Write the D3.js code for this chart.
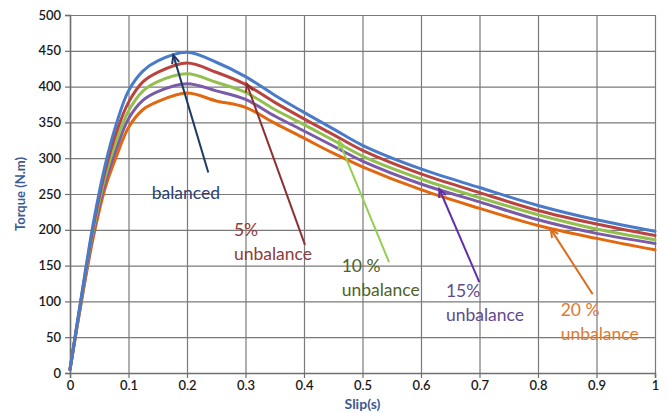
<!DOCTYPE html>
<html><head><meta charset="utf-8">
<script src="https://cdn.jsdelivr.net/npm/d3@7"></script>
<style>
html,body{margin:0;padding:0;background:#fff;}
svg{display:block;font-family:Lato,"Open Sans",sans-serif;}
</style></head>
<body>
<script>
// ---- data ----
const slip = [0, 0.02, 0.04, 0.06, 0.08, 0.1, 0.125, 0.15, 0.2, 0.25, 0.3, 0.35, 0.4, 0.45, 0.5, 0.6, 0.7, 0.8, 0.9, 1.0];
const balanced      = [5, 110, 210, 290, 350, 394, 422, 436, 448, 434, 414, 388, 364, 341, 318, 285, 259, 234, 214, 198];
const unbalance5    = [5, 108, 205, 282, 338, 378, 407, 420, 433, 420, 403, 378, 355, 333, 311, 278, 252, 227, 208, 192];
const unbalance10   = [5, 106, 200, 274, 326, 366, 394, 407, 418, 406, 392, 368, 347, 325, 303, 271, 245, 221, 201, 186];
const unbalance15   = [5, 104, 195, 266, 315, 355, 381, 393, 404, 394, 382, 359, 338, 317, 296, 264, 239, 214, 195, 181];
const unbalance20   = [5, 102, 190, 258, 304, 343, 368, 379, 391, 380, 371, 349, 328, 307, 288, 256, 230, 206, 188, 172];
const seriesNames   = ["balanced", "5% unbalance", "10 % unbalance", "15% unbalance", "20 % unbalance"];
const xTicks = [0, 0.1, 0.2, 0.3, 0.4, 0.5, 0.6, 0.7, 0.8, 0.9, 1];
const yTicks = [0, 50, 100, 150, 200, 250, 300, 350, 400, 450, 500];
const xTickLabels = ["0", "0.1", "0.2", "0.3", "0.4", "0.5", "0.6", "0.7", "0.8", "0.9", "1"];
// annotations (in data units): label lines, label anchor, arrow tail, arrow tip
const annLines  = [["balanced"], ["5%", "unbalance"], ["10 %", "unbalance"], ["15%", "unbalance"], ["20 %", "unbalance"]];
const annLabelS = [0.1397, 0.2803, 0.4644, 0.6427, 0.8388];
const annLabelT = [243, 192, 141, 106, 80];
const annTailS  = [0.2364, 0.4017, 0.5453, 0.6997, 0.8935];
const annTailT  = [280, 179, 155, 127, 110];
const annTipS   = [0.1766, 0.3020, 0.4598, 0.6313, 0.8217];
const annTipT   = [444, 404, 324, 257, 201];

// ---- styles ----
const lineColors  = ["#4A7BC8", "#B8433F", "#93BF4F", "#7A5BA8", "#E2680F"];
const arrowColors = ["#1F3864", "#8A3232", "#92D050", "#6030A8", "#DB6C1E"];
const textColors  = ["#2B3F73", "#8E3B3A", "#4F6228", "#5F4A8E", "#E07A30"];

const W = 669, H = 413;
const m = {top: 15, right: 14, bottom: 40, left: 70};
const svg = d3.select("body").append("svg").attr("width", W).attr("height", H);

const x = d3.scaleLinear().domain([0, 1]).range([m.left, W - m.right]);
const y = d3.scaleLinear().domain([0, 500]).range([H - m.bottom, m.top]);

// grid
svg.append("g").attr("transform", `translate(0,${H - m.bottom})`)
  .call(d3.axisBottom(x).tickValues(xTicks).tickSize(-(H - m.top - m.bottom)).tickFormat(""))
  .call(g => g.select(".domain").remove())
  .selectAll("line").attr("stroke", "#7a7a7a").attr("stroke-width", 1.2);
svg.append("g").attr("transform", `translate(${m.left},0)`)
  .call(d3.axisLeft(y).tickValues(yTicks).tickSize(-(W - m.left - m.right)).tickFormat(""))
  .call(g => g.select(".domain").remove())
  .selectAll("line").attr("stroke", "#7a7a7a").attr("stroke-width", 1.2);

// axes
const xa = svg.append("g").attr("transform", `translate(0,${H - m.bottom})`)
  .call(d3.axisBottom(x).tickValues(xTicks).tickSize(5).tickPadding(3).tickFormat((d, i) => xTickLabels[i]));
const ya = svg.append("g").attr("transform", `translate(${m.left},0)`)
  .call(d3.axisLeft(y).tickValues(yTicks).tickSize(5).tickPadding(4));
[xa, ya].forEach(a => {
  a.select(".domain").attr("stroke", "#6f6f6f").attr("stroke-width", 1.5);
  a.selectAll(".tick line").attr("stroke", "#6f6f6f").attr("stroke-width", 1.2);
  a.selectAll("text").attr("font-family", "Lato, sans-serif").attr("font-size", 13)
    .attr("font-weight", 600).attr("fill", "#1a1a1a");
});

// series
const allSeries = [balanced, unbalance5, unbalance10, unbalance15, unbalance20];
const line = d3.line().x((d, i) => x(slip[i])).y(d => y(d)).curve(d3.curveCatmullRom.alpha(0.5));
const order = [4, 3, 2, 1, 0];
order.forEach(k => {
  svg.append("path").datum(allSeries[k]).attr("d", line)
    .attr("fill", "none").attr("stroke", lineColors[k]).attr("stroke-width", 3)
    .attr("stroke-linejoin", "round").attr("stroke-linecap", "round")
    .attr("data-name", seriesNames[k]);
});

// annotations
annLines.forEach((lines, k) => {
  const x1 = x(annTailS[k]), y1 = y(annTailT[k]), x2 = x(annTipS[k]), y2 = y(annTipT[k]);
  const ang = Math.atan2(y2 - y1, x2 - x1);
  const hl = 9, ha = 0.42;
  const g = svg.append("g");
  g.append("line").attr("x1", x1).attr("y1", y1).attr("x2", x2).attr("y2", y2)
    .attr("stroke", arrowColors[k]).attr("stroke-width", 2);
  const p = `M${x2 - hl * Math.cos(ang - ha)},${y2 - hl * Math.sin(ang - ha)}L${x2},${y2}L${x2 - hl * Math.cos(ang + ha)},${y2 - hl * Math.sin(ang + ha)}`;
  g.append("path").attr("d", p).attr("fill", "none").attr("stroke", arrowColors[k]).attr("stroke-width", 2);
  const t = svg.append("text").attr("x", x(annLabelS[k])).attr("y", y(annLabelT[k]))
    .attr("font-family", "Lato, sans-serif").attr("font-size", 17.5).attr("fill", textColors[k]);
  lines.forEach((s, j) => t.append("tspan").attr("x", x(annLabelS[k])).attr("dy", j === 0 ? 0 : 24).text(s));
});

// axis titles
svg.append("text").attr("x", (m.left + W - m.right) / 2).attr("y", 409).attr("text-anchor", "middle")
  .attr("font-family", "Lato, sans-serif").attr("font-weight", 700).attr("font-size", 14)
  .attr("fill", "#3D5A94").text("Slip(s)");
svg.append("text").attr("transform", `translate(25,${(m.top + H - m.bottom) / 2}) rotate(-90)`)
  .attr("text-anchor", "middle").attr("font-family", "Lato, sans-serif").attr("font-weight", 700)
  .attr("font-size", 13).attr("fill", "#3D5A94").text("Torque (N.m)");
</script>
</body></html>
